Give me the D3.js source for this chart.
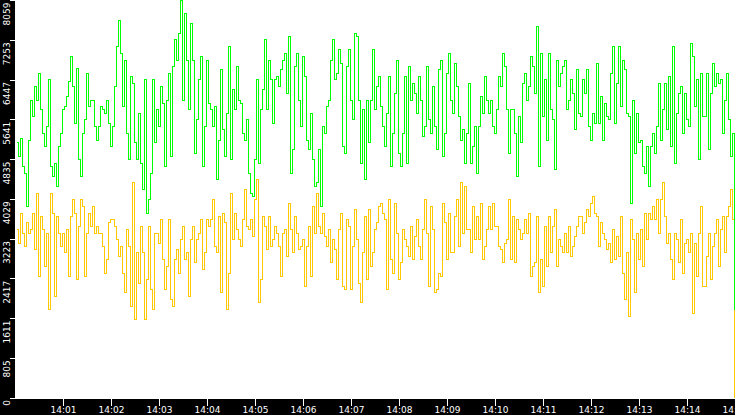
<!DOCTYPE html>
<html>
<head>
<meta charset="utf-8">
<script src="https://cdn.jsdelivr.net/npm/d3@7"></script>
<style>
    html, body { margin: 0; padding: 0; background: #fff; overflow: hidden; }
    svg { display: block; }
    .axis text { font-family: "DejaVu Sans", sans-serif; font-size: 9px; fill: #fff; }
    .axis line { stroke: #fff; shape-rendering: crispEdges; }
    .axis .domain { display: none; }
</style>
</head>
<body>
<div id="chart"></div>
<script>
// sampling grid of the two series (one reading every 2.5 s)
const startTime = new Date(2024, 0, 1, 14, 0, 2);
const stepMs = 2500;

// upper series (green)
const greenValues = [
    5160,4890,5260,4680,4550,3870,5220,6030,5700,6300,6030,6570,5830,5360,5090,5490,6440,4680,4480,4750,4280,5090,5360,5830,5900,6100,6410,6910,6300,5560,6680,4820,4480,5360,5630,6570,5900,6030,6030,5490,5220,5490,5900,5830,5760,6030,5560,5090,5490,6300,7110,7650,
    6980,5900,6840,5360,4820,6510,6370,5160,4820,5760,4750,4210,6440,3740,4010,4550,6440,5160,5830,5490,6300,5970,4680,6030,6570,4890,6710,7250,6840,7380,8050,6030,7790,6840,5830,7590,6840,4950,5630,6440,6910,4680,5490,6840,5970,5830,5490,5900,4410,5220,6640,5430,
    4890,5760,7110,4820,6240,5830,6710,6030,5970,5360,5220,5630,4550,4140,4080,4820,6440,4750,5830,6240,7250,5830,6840,6440,5560,6440,6510,6300,6640,6840,6980,6170,7320,4550,5020,6710,6980,6030,5490,6910,6510,5220,5020,5760,4820,4280,4350,5020,3870,5490,5360,5900,
    6030,6840,7250,6440,6570,7050,6780,5090,4950,6710,7050,6030,5630,7380,7320,6030,4750,5830,4410,6030,5160,6030,7050,5830,6300,6510,5900,5490,5090,5760,6510,4680,5360,6170,6840,4950,4680,5360,6510,4750,6710,6030,6370,6170,5760,6510,6030,5290,5490,6710,5630,5360,
    6300,5490,5020,6640,6840,4890,5360,6570,6980,6030,5760,6780,6300,5700,5220,5430,4750,5360,6370,4750,5090,5490,4550,5490,6100,5760,6510,6030,5760,6030,5490,5360,5830,6510,6300,6980,6710,5830,4950,5830,5830,5360,4480,5700,5160,6370,6570,6030,6300,6910,6710,6170,
    7520,4680,6980,5700,6440,5220,6980,5830,5630,4620,6840,6300,6570,6710,6840,5830,6030,6440,6170,5430,6640,5760,5700,6440,6170,6640,5490,5220,5760,5560,6780,5560,6100,5220,5970,5700,5630,6570,7110,5560,6370,7110,5900,6840,6640,5760,5700,3940,6030,4950,5760,5160,
    5220,4680,4550,5090,4280,5090,5360,4950,5490,6370,5220,5830,6370,5430,6510,5090,7110,4750,5760,6170,6300,5360,6170,5630,5490,7180,6910,5900,6440,4820,6570,5700,5700,6570,5020,6170,6780,6300,6570,6370,6440,5360,6030,6570,5630,4890,5360,1780
];

// lower series (yellow)
const yellowValues = [
    3400,3130,3740,3330,3060,3540,3330,3400,3740,3000,4140,2460,3670,3400,2660,3330,1780,4140,3740,2050,3670,3330,3060,3330,2930,3400,2460,3670,4010,3740,2390,3470,4010,3870,2460,3330,3740,3470,3870,3330,3470,3330,3330,3060,2520,2790,3540,3600,3600,3470,3200,2860,
    3060,2520,2120,3400,3060,1850,4350,1580,2930,2320,3470,2930,1580,2390,3470,2190,1780,3330,3330,3130,3600,2790,2190,2660,3600,1980,1850,2790,3000,2520,3200,3470,2790,2930,2050,3200,3470,2730,3200,3330,3600,2590,2930,3600,3470,3600,4010,3060,2930,3670,2120,3740,
    3540,1780,2520,4140,3200,3740,3400,3200,3060,3600,4210,3470,3400,3600,3270,4010,4410,1920,2390,3670,3470,3000,3670,3060,3200,3470,3330,3060,2460,3330,3400,2860,3940,3400,2930,3670,3330,3000,3060,3200,2250,3060,3470,2460,3870,3330,4140,3470,3330,3740,3270,3060,
    3400,2730,3200,3000,2390,3400,3740,2250,2190,3600,3470,2190,3060,3810,3200,2320,1920,2930,3670,2390,3810,2660,2930,3400,3540,3870,3940,3740,3600,2190,4010,2790,2520,3940,3330,2390,2730,3400,3200,3060,2860,3470,2790,3270,3600,3060,2790,3400,4010,3330,2250,3870,
    3400,2120,2190,2520,2460,3940,3540,2790,3740,2930,2930,3670,4010,3060,4350,3330,4280,3400,3400,2930,3870,3200,3670,3200,3940,2790,3060,3400,3870,3400,3940,3470,3470,3060,3000,2730,3130,3200,4010,2790,3670,2730,3600,3400,3200,3330,3600,3330,3740,2460,2660,2730,
    3670,2120,2790,2250,3470,2660,3670,2930,3470,3810,2660,3200,3060,2930,3330,2930,3470,2860,3060,3270,3470,3670,3670,3330,3540,3810,3670,3940,4080,3740,3670,3060,3540,3330,3200,3000,3130,2730,3400,2790,3270,2860,3670,2520,1980,2930,1650,3600,3200,2120,3330,2790,
    3400,2660,3740,3200,3740,3600,3870,3600,4010,3330,4010,4350,3670,3130,3330,2790,2390,3330,3200,2730,3600,2520,3130,3200,2930,3330,1710,3130,2460,3330,3870,2250,2250,2860,3330,2390,3060,3330,3600,2660,3400,3670,2930,3670,3870,4210,3600,0
];

const yMax = 8059;
const yTickValues = [0, 805, 1611, 2417, 3223, 4029, 4835, 5641, 6447, 7253, 8059];

const width = 735, height = 415;
const margin = {top: 0, right: 0, bottom: 17, left: 15};

let svg = d3.select("#chart").append("svg")
    .attr("width", width)
    .attr("height", height);

// build rows for the line generator
let rows = greenValues.map((g, i) => ({
    time: new Date(startTime.getTime() + i * stepMs),
    green: g,
    yellow: yellowValues[i]
}));

// scales (half pixel offset keeps the 1px strokes crisp)
let x = d3.scaleTime()
    .domain([startTime, new Date(startTime.getTime() + rows.length * stepMs)])
    .range([margin.left + 1.5, width + 1.5]);

let y = d3.scaleLinear()
    .domain([0, yMax])
    .range([height - margin.bottom - 0.5, 0]);

// plot background
svg.append("rect")
    .attr("x", margin.left)
    .attr("y", 0)
    .attr("width", width - margin.left)
    .attr("height", height - margin.bottom)
    .attr("fill", "#fff");

// series, yellow first so green sits on top
let series = [
    {key: "yellow", color: "#ffc800"},
    {key: "green", color: "#00ff00"}
];

series.forEach(s => {
    let line = d3.line()
        .curve(d3.curveStepAfter)
        .x(d => x(d.time))
        .y(d => y(d[s.key]));

    svg.append("path")
        .datum(rows)
        .attr("d", line)
        .attr("fill", "none")
        .attr("stroke", s.color)
        .attr("stroke-width", 1)
        .attr("shape-rendering", "crispEdges");
});

// black frames for the axes
svg.append("rect")
    .attr("x", 0).attr("y", 0)
    .attr("width", margin.left)
    .attr("height", height)
    .attr("fill", "#000");

svg.append("rect")
    .attr("x", 0).attr("y", height - margin.bottom + 1)
    .attr("width", width)
    .attr("height", margin.bottom)
    .attr("fill", "#000");

// y axis
let yAxis = d3.axisLeft(y)
    .tickValues(yTickValues)
    .tickSize(5)
    .tickFormat(d3.format("d"));

svg.append("g")
    .attr("class", "axis y-axis")
    .attr("transform", `translate(${margin.left},0)`)
    .call(yAxis)
    .selectAll("text")
    .attr("x", 0)
    .attr("dy", 0)
    .attr("text-anchor", "end")
    .attr("transform", "translate(-5.5,2) rotate(-90)");

// x axis
let xAxis = d3.axisBottom(x)
    .ticks(d3.timeMinute.every(1))
    .tickSize(7)
    .tickFormat(d3.timeFormat("%H:%M"));

svg.append("g")
    .attr("class", "axis x-axis")
    .attr("transform", `translate(0,${height - margin.bottom + 1})`)
    .call(xAxis)
    .selectAll("text")
    .attr("y", 14)
    .attr("dy", 0);
</script>
</body>
</html>
